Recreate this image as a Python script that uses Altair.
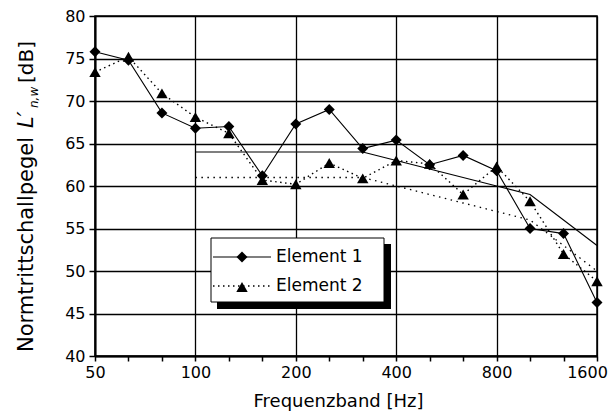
import altair as alt
import pandas as pd

# ---------------- data ----------------
freqs = ["50", "63", "80", "100", "125", "160", "200", "250", "315",
         "400", "500", "630", "800", "1000", "1250", "1600"]
element1 = [75.8, 74.8, 68.6, 66.8, 67.0, 61.2, 67.3, 69.0, 64.4,
            65.4, 62.5, 63.6, 61.8, 55.0, 54.4, 46.3]
element2 = [73.4, 75.2, 70.9, 68.1, 66.2, 60.7, 60.2, 62.7, 60.9,
            63.0, 62.6, 59.0, 62.3, 58.2, 52.0, 48.8]
ref_start = 3  # reference curves start at 100 Hz
ref1 = [64, 64, 64, 64, 64, 64, 63, 62, 61, 60, 59, 56, 53]
ref2 = [61, 61, 61, 61, 61, 61, 60, 59, 58, 57, 56, 53, 50]
y_ticks = list(range(40, 81, 5))
legend_labels = ["Element 1", "Element 2"]
title_parts = ["Normtrittschallpegel", "L\u2032", "n,w", "[dB]"]
x_title = "Frequenzband [Hz]"

idx = list(range(len(freqs)))
last = len(freqs) - 1
d1 = pd.DataFrame({"i": idx, "f": freqs, "v": element1})
d2 = pd.DataFrame({"i": idx, "f": freqs, "v": element2})
r1 = pd.DataFrame({"i": idx[ref_start:], "v": ref1})
r2 = pd.DataFrame({"i": idx[ref_start:], "v": ref2})

label_arr = "[" + ",".join("'%s'" % (f if k % 3 == 0 else "") for k, f in enumerate(freqs)) + "]"

FONT = "DejaVu Sans"

x = alt.X(
    "i:Q",
    scale=alt.Scale(domain=[0, last], nice=False, zero=False),
    axis=alt.Axis(
        values=idx,
        labelExpr=label_arr + "[datum.value]",
        labelFlush=False,
        labelPadding=3,
        labelOffset={"condition": {"test": "datum.value === %d" % last, "value": -10}, "value": 0},
        tickSize=5,
        title=x_title,
        titleX=243,
        titleY=50,
        titleBaseline="alphabetic",
        titleFontSize=18,
        grid=True,
        gridOpacity={"condition": {"test": "datum.value % 3 === 0", "value": 1}, "value": 0},
    ),
)
y = alt.Y(
    "v:Q",
    scale=alt.Scale(domain=[40, 80], nice=False, zero=False),
    axis=alt.Axis(values=y_ticks, title=None, grid=True, labelPadding=4, tickSize=6),
)

ref1_line = alt.Chart(r1).mark_line(color="black", strokeWidth=1.1).encode(x=x, y=y)
ref2_line = alt.Chart(r2).mark_line(color="black", strokeWidth=1.3, strokeDash=[1.5, 4.5]).encode(x=x, y=y)

e1_line = alt.Chart(d1).mark_line(color="black", strokeWidth=1.1).encode(x=x, y=y)
e1_pts = alt.Chart(d1).mark_point(shape="diamond", filled=True, size=120, color="black", opacity=1).encode(x=x, y=y)
e2_line = alt.Chart(d2).mark_line(color="black", strokeWidth=1.4, strokeDash=[1.5, 3.5]).encode(x=x, y=y)
e2_pts = alt.Chart(d2).mark_point(shape="triangle-up", filled=True, size=130, color="black", opacity=1).encode(x=x, y=y)

one = pd.DataFrame({"k": [0]})

# legend (box with drop shadow)
shadow = alt.Chart(one).mark_rect(color="black").encode(
    x=alt.value(122), x2=alt.value(296), y=alt.value(228), y2=alt.value(293))
box = alt.Chart(one).mark_rect(fill="white", stroke="black", strokeWidth=1).encode(
    x=alt.value(116), x2=alt.value(289), y=alt.value(222), y2=alt.value(286))
leg1_line = alt.Chart(one).mark_rule(color="black", strokeWidth=1.1).encode(
    x=alt.value(118), x2=alt.value(176), y=alt.value(241))
leg2_line = alt.Chart(one).mark_rule(color="black", strokeWidth=1.4, strokeDash=[1.5, 3.5]).encode(
    x=alt.value(118), x2=alt.value(176), y=alt.value(270))
leg1_pt = alt.Chart(one).mark_point(shape="diamond", filled=True, size=120, color="black", opacity=1).encode(
    x=alt.value(147), y=alt.value(241))
leg2_pt = alt.Chart(one).mark_point(shape="triangle-up", filled=True, size=130, color="black", opacity=1).encode(
    x=alt.value(147), y=alt.value(271))
leg1_txt = alt.Chart(pd.DataFrame({"t": [legend_labels[0]]})).mark_text(
    align="left", baseline="middle", font=FONT, fontSize=17, color="black").encode(
    x=alt.value(181), y=alt.value(241), text="t:N")
leg2_txt = alt.Chart(pd.DataFrame({"t": [legend_labels[1]]})).mark_text(
    align="left", baseline="middle", font=FONT, fontSize=17, color="black").encode(
    x=alt.value(181), y=alt.value(270), text="t:N")

# y-axis title with italic symbol and subscript
def title_piece(txt, xpos, ypos, size, style="normal"):
    return alt.Chart(pd.DataFrame({"t": [txt]})).mark_text(
        angle=270, align="left", baseline="alphabetic", font=FONT, fontSize=size,
        fontStyle=style, color="black").encode(x=alt.value(xpos), y=alt.value(ypos), text="t:N")

yt1 = title_piece(title_parts[0], -62, 336, 21)
yt2 = title_piece(title_parts[1], -62, 112, 21, "italic")
yt3 = title_piece(title_parts[2], -57, 92, 12, "italic")
yt4 = title_piece(title_parts[3], -62, 67, 20)

chart = alt.layer(
    ref1_line, ref2_line, e1_line, e1_pts, e2_line, e2_pts,
    shadow, box, leg1_line, leg2_line, leg1_pt, leg2_pt, leg1_txt, leg2_txt,
    yt1, yt2, yt3, yt4,
).properties(
    width=502, height=340,
    padding={"left": 87, "top": 8, "right": 11, "bottom": 56},
    autosize=alt.AutoSizeParams(type="none"),
    background="white",
).configure_view(
    stroke="black", strokeWidth=1.5
).configure_axis(
    domainColor="black", domainWidth=2,
    tickColor="black", tickWidth=1.5,
    gridColor="black", gridWidth=1.3,
    labelFont=FONT, labelFontSize=16, labelColor="black",
    titleFont=FONT, titleColor="black", titleFontWeight="normal",
)

chart.save("out.html", embed_options={"renderer": "svg", "actions": False})
